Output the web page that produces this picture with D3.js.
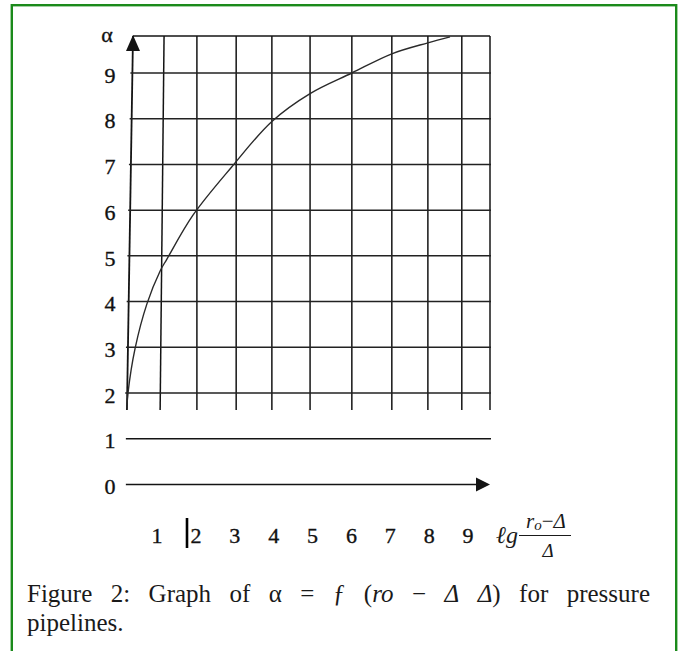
<!DOCTYPE html>
<html>
<head>
<meta charset="utf-8">
<script src="https://cdn.jsdelivr.net/npm/d3@7/dist/d3.min.js"></script>
<style>
  html, body { margin: 0; padding: 0; background: #fff; }
  svg { display: block; }
</style>
</head>
<body>
<svg id="chart" width="680" height="651"></svg>
<script>
// α as a function of lg((r0 − Δ)/Δ) for pressure pipelines

// curve points: x = lg((r0 − Δ)/Δ), alpha = α
const curveX     = [-0.17, -0.14, 0.06, 0.39, 0.76, 0.95, 1.68, 2.77, 3.89, 4.96, 6.13, 7.25, 8.26, 8.88];
const curveAlpha = [ 1.67,  2.00, 2.98, 3.95, 4.67, 4.93, 5.89, 6.95, 7.94, 8.55, 9.00, 9.42, 9.66, 9.79];

// hand-ruled vertical grid lines (value at the top edge and at the bottom edge)
const gridXTop    = [0, 0.87, 1.79, 2.89, 3.89, 4.96, 6.13, 7.25, 8.26, 9.21, 10];
const gridXBottom = [-0.17, 0.76, 1.79, 2.89, 3.89, 4.96, 6.13, 7.25, 8.26, 9.21, 10];

// horizontal grid lines and the lower guide lines
const alphaTicks = [2, 3, 4, 5, 6, 7, 8, 9];
const lowerLines = [1, 0];
const gridTopAlpha = 9.81;
const gridBottomAlpha = 1.63;
const xDomain = [0, 10];

// x tick labels typed under the axis
const xTickLabels = ["1", "2", "3", "4", "5", "6", "7", "8", "9"];

const svg = d3.select("#chart");
const serif = "'Liberation Serif', 'DejaVu Serif', serif";
const ink = "#141414";

// frame
svg.append("rect")
  .attr("x", 11.8).attr("y", 5.2)
  .attr("width", 664.4).attr("height", 700)
  .attr("fill", "none")
  .attr("stroke", "#1b8a1b")
  .attr("stroke-width", 2.4);

const x = d3.scaleLinear().domain(xDomain).range([133, 490]);
const y = d3.scaleLinear().domain([2, 9]).range([393, 73]);

// x position of the (slightly slanted) α axis at a given α
const axisAt = d3.scaleLinear()
  .domain([gridTopAlpha, gridBottomAlpha])
  .range([x(gridXTop[0]), x(gridXBottom[0])]);

const grid = svg.append("g").attr("stroke", ink).attr("fill", "none");

// vertical lines (the first one is the α axis)
grid.selectAll("line.v")
  .data(d3.zip(gridXTop, gridXBottom))
  .join("line")
  .attr("class", "v")
  .attr("x1", d => x(d[0])).attr("y1", y(gridTopAlpha))
  .attr("x2", d => x(d[1])).attr("y2", y(gridBottomAlpha))
  .attr("stroke-width", (d, i) => i === 0 ? 1.8 : 1.5);

// top edge of the grid
grid.append("line")
  .attr("x1", axisAt(gridTopAlpha)).attr("y1", y(gridTopAlpha))
  .attr("x2", x(xDomain[1])).attr("y2", y(gridTopAlpha))
  .attr("stroke-width", 1.5);

// horizontal α lines
grid.selectAll("line.h")
  .data(alphaTicks)
  .join("line")
  .attr("class", "h")
  .attr("x1", d => axisAt(d) - 2).attr("y1", d => y(d))
  .attr("x2", x(xDomain[1]) + 1).attr("y2", d => y(d))
  .attr("stroke-width", 1.5)
  .attr("stroke", "#222");

// lower guide lines for α = 1 and α = 0
grid.selectAll("line.low")
  .data(lowerLines)
  .join("line")
  .attr("class", "low")
  .attr("x1", x(-0.2)).attr("y1", d => y(d))
  .attr("x2", d => d === 0 ? x(xDomain[1]) - 12 : x(xDomain[1]) + 1)
  .attr("y2", d => y(d))
  .attr("stroke-width", 1.5);

// arrow heads
const tipY = y(gridTopAlpha) - 1;
svg.append("path")
  .attr("d", `M${x(0)},${tipY} L${x(0) - 7},${tipY + 16} L${x(0) + 7},${tipY + 16} Z`)
  .attr("fill", ink);
const ax = x(xDomain[1]), ay = y(0);
svg.append("path")
  .attr("d", `M${ax},${ay} L${ax - 14},${ay - 7} L${ax - 14},${ay + 7} Z`)
  .attr("fill", ink);

// α(x) curve
const line = d3.line()
  .x(d => x(d[0]))
  .y(d => y(d[1]))
  .curve(d3.curveCatmullRom.alpha(0.5));
svg.append("path")
  .datum(d3.zip(curveX, curveAlpha))
  .attr("d", line)
  .attr("fill", "none")
  .attr("stroke", "#2a2a2a")
  .attr("stroke-width", 1.4);

// α tick labels
const yLabels = svg.append("g")
  .attr("font-family", serif)
  .attr("font-size", 22)
  .attr("fill", "#111")
  .attr("stroke", "#111")
  .attr("stroke-width", 0.35)
  .attr("text-anchor", "middle");
yLabels.selectAll("text")
  .data(alphaTicks.concat(lowerLines))
  .join("text")
  .attr("x", 110)
  .attr("y", d => y(d) + 2)
  .attr("dy", "0.35em")
  .text(d => d);
yLabels.append("text")
  .attr("x", 107).attr("y", y(gridTopAlpha) - 1)
  .attr("dy", "0.3em")
  .text("α");

// x tick labels
const xl = d3.scalePoint().domain(xTickLabels).range([157, 468]);
const xLabels = svg.append("g")
  .attr("font-family", serif)
  .attr("font-size", 22)
  .attr("fill", "#111")
  .attr("stroke", "#111")
  .attr("stroke-width", 0.35)
  .attr("text-anchor", "middle");
xLabels.selectAll("text")
  .data(xTickLabels)
  .join("text")
  .attr("x", d => xl(d))
  .attr("y", 543)
  .text(d => d);

// text cursor left beside the "2"
svg.append("line")
  .attr("x1", 187).attr("x2", 187)
  .attr("y1", 518).attr("y2", 548)
  .attr("stroke", "#000").attr("stroke-width", 2.6);

// axis title: lg (r0 − Δ)/Δ
const title = svg.append("g").attr("font-family", serif).attr("fill", "#1a1a1a").attr("font-style", "italic");
title.append("text").attr("x", 496).attr("y", 543).attr("font-size", 24).text("ℓg");
const num = title.append("text").attr("x", 546).attr("y", 528).attr("font-size", 21).attr("text-anchor", "middle");
num.append("tspan").text("r");
num.append("tspan").attr("font-size", 15).attr("dy", 2).text("o");
num.append("tspan").attr("dy", -2).attr("font-style", "normal").text("−");
num.append("tspan").text("Δ");
title.append("line")
  .attr("x1", 519).attr("x2", 571)
  .attr("y1", 535.5).attr("y2", 535.5)
  .attr("stroke", "#1a1a1a").attr("stroke-width", 1.2);
title.append("text").attr("x", 548).attr("y", 557).attr("font-size", 19).attr("text-anchor", "middle").text("Δ");

// caption, justified on the first line
const captionLines = [
  [["Figure"], ["2:"], ["Graph"], ["of"], ["α"], ["="], ["ƒ"], ["(", "*ro"], ["−"], ["*Δ"], ["*Δ", ")"], ["for"], ["pressure"]],
  [["pipelines."]]
];
const cap = svg.append("g")
  .attr("font-family", serif)
  .attr("font-size", 25)
  .attr("fill", "#1a1a1a");
function layoutLine(words, baseline, x0, x1, justify) {
  const nodes = words.map(parts => {
    const t = cap.append("text").attr("y", baseline);
    parts.forEach(p => {
      const it = p.startsWith("*");
      t.append("tspan").attr("font-style", it ? "italic" : "normal").text(it ? p.slice(1) : p);
    });
    return t;
  });
  const widths = nodes.map(n => n.node().getComputedTextLength());
  const gap = justify && nodes.length > 1
    ? (x1 - x0 - d3.sum(widths)) / (nodes.length - 1)
    : 6;
  let cx = x0;
  nodes.forEach((n, i) => { n.attr("x", cx); cx += widths[i] + gap; });
}
layoutLine(captionLines[0], 602, 27, 650, true);
layoutLine(captionLines[1], 631, 27, 650, false);
</script>
</body>
</html>
